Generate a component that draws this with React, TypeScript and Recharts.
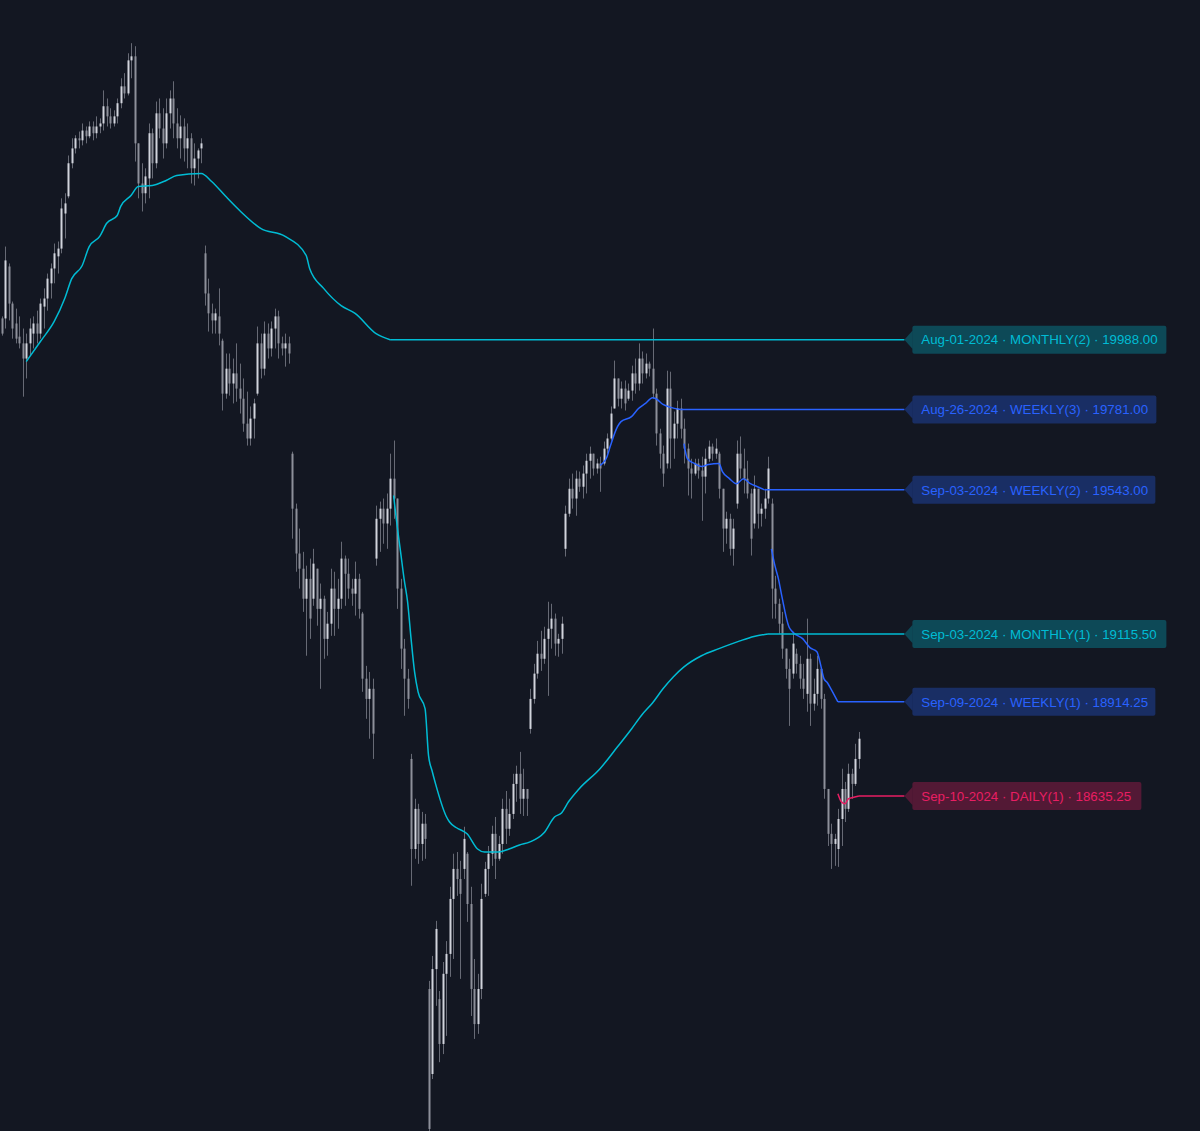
import { Bar, ComposedChart, Line, ReferenceDot, ReferenceLine, XAxis, YAxis } from "recharts";

// candles, one per slot from the left edge
const opens = [
  20051, 20051, 20205, 20095, 20036, 19997, 19977, 19932, 19977, 20006,
  20036, 20006, 20086, 20110, 20155, 20199, 20235, 20258, 20362, 20413,
  20511, 20555, 20585, 20579, 20608, 20591, 20620, 20600, 20620, 20629,
  20680, 20650, 20629, 20650, 20689, 20739, 20718, 20816, 20828, 20570,
  20451, 20422, 20466, 20600, 20511, 20659, 20614, 20570, 20659, 20703,
  20629, 20585, 20620, 20555, 20585, 20496, 20525, 20555, 20244, 20125,
  20066, 20045, 20057, 19985, 19828, 19902, 19858, 19888, 19843, 19813,
  19739, 19695, 19754, 19828, 19977, 19902, 20006, 19962, 20021, 20057,
  19977, 19962, 19977, 19650, 19487, 19354, 19309, 19220, 19279, 19220,
  19309, 19190, 19220, 19101, 19146, 19250, 19190, 19220, 19339, 19294,
  19250, 19235, 19279, 19176, 18983, 18923, 18953, 19339, 19457, 19487,
  19443, 19487, 19576, 19517, 19250, 19072, 18983, 18745, 18478, 18597,
  18493, 18553, 18063, 17811, 18122, 18033, 17900, 18108, 18167, 18330,
  18419, 18389, 18419, 18464, 18315, 18063, 17959, 18063, 18345, 18419,
  18464, 18523, 18449, 18493, 18597, 18538, 18582, 18671, 18701, 18627,
  18656, 18834, 18923, 18998, 19057, 19042, 19101, 19131, 19161, 19087,
  19101, 19368, 19472, 19546, 19517, 19576, 19552, 19591, 19629, 19650,
  19606, 19621, 19621, 19665, 19695, 19784, 19873, 19813, 19843, 19813,
  19837, 19888, 19858, 19932, 19888, 19917, 19902, 19828, 19710, 19650,
  19621, 19843, 19695, 19739, 19784, 19724, 19665, 19606, 19591, 19621,
  19600, 19582, 19635, 19671, 19650, 19650, 19546, 19428, 19457, 19368,
  19502, 19650, 19606, 19576, 19532, 19443, 19546, 19472, 19487, 19517,
  19502, 19250, 19205, 19146, 19072, 19012, 18998, 19057, 19027, 18983,
  18938, 19042, 18909, 18938, 19012, 18923, 18656, 18523, 18493, 18478,
  18567, 18656, 18597, 18701, 18671, 18745,
];

const highs = [
  20057, 20264, 20214, 20101, 20080, 20057, 20021, 20006, 20051, 20057,
  20074, 20110, 20140, 20184, 20214, 20273, 20279, 20407, 20422, 20534,
  20585, 20594, 20605, 20629, 20620, 20635, 20635, 20650, 20644, 20727,
  20703, 20674, 20668, 20703, 20763, 20778, 20837, 20867, 20858, 20570,
  20511, 20496, 20629, 20614, 20694, 20703, 20674, 20703, 20727, 20754,
  20674, 20653, 20644, 20629, 20600, 20570, 20555, 20585, 20267, 20169,
  20095, 20080, 20140, 19991, 19947, 19947, 19932, 19977, 19917, 19873,
  19834, 19790, 19813, 20027, 20006, 20042, 20036, 20042, 20080, 20074,
  19997, 20006, 19997, 19656, 19502, 19428, 19359, 19318, 19339, 19368,
  19309, 19265, 19229, 19181, 19309, 19300, 19279, 19389, 19348, 19339,
  19279, 19330, 19294, 19181, 19021, 19003, 18983, 19496, 19508, 19517,
  19532, 19650, 19689, 19517, 19279, 19101, 19012, 18760, 18627, 18612,
  18588, 18582, 18087, 18161, 18265, 18057, 18143, 18205, 18366, 18464,
  18469, 18443, 18544, 18469, 18366, 18152, 18108, 18375, 18440, 18487,
  18547, 18573, 18517, 18627, 18650, 18627, 18701, 18725, 18766, 18716,
  18656, 18953, 19027, 19095, 19125, 19137, 19211, 19205, 19176, 19116,
  19167, 19496, 19576, 19591, 19600, 19597, 19615, 19650, 19671, 19650,
  19635, 19641, 19686, 19710, 19790, 19926, 19873, 19864, 19867, 19858,
  19911, 19932, 19977, 19953, 19947, 19923, 20021, 19843, 19724, 19674,
  19896, 19893, 19775, 19807, 19813, 19754, 19680, 19635, 19635, 19635,
  19641, 19665, 19689, 19680, 19695, 19656, 19546, 19478, 19472, 19457,
  19689, 19701, 19665, 19629, 19546, 19585, 19546, 19502, 19546, 19641,
  19517, 19288, 19220, 19181, 19072, 19042, 19122, 19072, 19051, 19027,
  19161, 19057, 18983, 19051, 19012, 18938, 18656, 18553, 18523, 18597,
  18716, 18677, 18731, 18716, 18790, 18825,
];

const lows = [
  20000, 20021, 20045, 19991, 19977, 19962, 19819, 19873, 19941, 19962,
  19977, 19991, 20021, 20074, 20110, 20155, 20184, 20244, 20288, 20407,
  20496, 20540, 20555, 20564, 20570, 20585, 20579, 20585, 20600, 20608,
  20620, 20614, 20620, 20629, 20674, 20703, 20712, 20763, 20516, 20407,
  20368, 20392, 20407, 20466, 20496, 20585, 20525, 20555, 20614, 20585,
  20555, 20525, 20516, 20496, 20451, 20445, 20466, 20511, 20089, 20012,
  20006, 20006, 19971, 19778, 19813, 19822, 19799, 19804, 19769, 19715,
  19674, 19674, 19695, 19822, 19873, 19882, 19932, 19938, 19962, 19932,
  19941, 19908, 19917, 19398, 19300, 19250, 19181, 19051, 19101, 19199,
  19140, 18953, 19042, 19051, 19110, 19110, 19131, 19190, 19199, 19220,
  19199, 19170, 19161, 18944, 18864, 18805, 18745, 19318, 19359, 19383,
  19368, 19437, 19457, 19190, 19012, 18873, 18894, 18369, 18449, 18434,
  18443, 18449, 17603, 17796, 18013, 17846, 17870, 17924, 18099, 18152,
  18339, 18093, 18389, 18262, 17983, 17915, 17930, 18033, 18336, 18339,
  18428, 18389, 18443, 18464, 18493, 18517, 18567, 18618, 18582, 18576,
  18576, 18820, 18909, 18983, 19006, 19027, 18932, 19072, 19051, 19048,
  19057, 19345, 19463, 19487, 19466, 19537, 19517, 19532, 19576, 19585,
  19591, 19537, 19615, 19650, 19689, 19784, 19790, 19784, 19778, 19807,
  19807, 19828, 19837, 19858, 19873, 19879, 19813, 19674, 19606, 19552,
  19606, 19606, 19635, 19695, 19695, 19621, 19526, 19517, 19585, 19576,
  19451, 19532, 19626, 19629, 19635, 19517, 19359, 19383, 19348, 19318,
  19487, 19576, 19532, 19517, 19348, 19428, 19428, 19434, 19457, 19502,
  19161, 19161, 19116, 19042, 18983, 18843, 18983, 18998, 18953, 18923,
  18885, 18843, 18888, 18903, 18894, 18627, 18487, 18419, 18428, 18425,
  18487, 18558, 18588, 18627, 18665, 18716,
];

const closes = [
  20006, 20223, 20095, 20021, 19991, 19977, 19932, 19977, 20021, 20036,
  20006, 20095, 20110, 20169, 20199, 20244, 20258, 20377, 20392, 20511,
  20555, 20585, 20579, 20608, 20591, 20620, 20600, 20620, 20629, 20680,
  20650, 20629, 20650, 20689, 20739, 20718, 20816, 20828, 20570, 20451,
  20422, 20472, 20600, 20511, 20659, 20614, 20570, 20659, 20703, 20629,
  20585, 20620, 20555, 20585, 20496, 20525, 20549, 20570, 20125, 20066,
  20045, 20066, 20006, 19828, 19902, 19858, 19888, 19843, 19813, 19739,
  19695, 19754, 19799, 19977, 19902, 20006, 19962, 20021, 20057, 19977,
  19962, 19977, 19947, 19487, 19354, 19309, 19220, 19279, 19161, 19324,
  19190, 19220, 19101, 19146, 19250, 19190, 19220, 19339, 19294, 19250,
  19235, 19279, 19190, 18983, 18923, 18953, 18820, 19457, 19487, 19443,
  19487, 19576, 19517, 19250, 19072, 18983, 18923, 18478, 18597, 18493,
  18553, 18508, 17648, 18122, 18241, 17900, 18108, 18167, 18330, 18419,
  18389, 18345, 18508, 18315, 18063, 17959, 18063, 18330, 18419, 18464,
  18523, 18449, 18493, 18597, 18538, 18582, 18671, 18701, 18627, 18656,
  18627, 18923, 18998, 19057, 19042, 19101, 19131, 19161, 19087, 19101,
  19146, 19472, 19546, 19517, 19576, 19552, 19591, 19629, 19650, 19606,
  19621, 19606, 19665, 19695, 19769, 19873, 19813, 19843, 19799, 19837,
  19888, 19858, 19932, 19888, 19917, 19902, 19828, 19710, 19650, 19591,
  19843, 19695, 19739, 19784, 19724, 19665, 19606, 19591, 19621, 19600,
  19582, 19635, 19671, 19650, 19665, 19546, 19428, 19457, 19368, 19428,
  19650, 19606, 19576, 19532, 19398, 19546, 19472, 19487, 19517, 19606,
  19250, 19205, 19146, 19072, 19012, 18953, 19087, 19027, 18983, 18953,
  19042, 18909, 18938, 19012, 18923, 18656, 18523, 18493, 18508, 18567,
  18656, 18597, 18701, 18671, 18745, 18805,
];

// anchored vwap readings: [bar index, price]
const monthly2Vwap: [number, number][] = [
  [7, 19923], [11, 19982], [15, 20042], [18, 20110], [20, 20169], [23, 20208],
  [25, 20264], [28, 20294], [30, 20333], [33, 20356], [34, 20383], [37, 20416],
  [39, 20442], [43, 20445], [47, 20460], [50, 20475], [57, 20481], [60, 20457],
  [64, 20413], [68, 20371], [74, 20318], [81, 20294], [87, 20238], [88, 20199],
  [92, 20140], [97, 20089], [101, 20066], [107, 20006], [111, 19988],
];

const monthly1Vwap: [number, number][] = [
  [112, 19526], [113, 19437], [114, 19359], [115, 19279], [116, 19211], [117, 19101],
  [118, 19003], [119, 18944], [121, 18894], [122, 18754], [123, 18710], [124, 18671],
  [127, 18576], [128, 18558], [130, 18541], [133, 18523], [136, 18478], [138, 18469],
  [142, 18469], [145, 18478], [148, 18490], [151, 18499], [155, 18526], [158, 18573],
  [160, 18585], [162, 18618], [165, 18656], [171, 18716], [176, 18781], [180, 18834],
  [183, 18876], [186, 18911], [189, 18953], [192, 18989], [195, 19018], [200, 19051],
  [205, 19072], [211, 19095], [215, 19108], [219, 19115.5],
];

const weekly3Vwap: [number, number][] = [
  [171, 19615], [173, 19641], [174, 19674], [176, 19730], [177, 19745], [180, 19760],
  [182, 19784], [184, 19799], [186, 19816], [187, 19813], [189, 19796], [191, 19788],
  [194, 19781],
];

const weekly2Vwap: [number, number][] = [
  [195, 19680], [196, 19635], [198, 19621], [200, 19612], [202, 19618], [205, 19621],
  [206, 19597], [208, 19576], [210, 19561], [212, 19576], [214, 19561], [216, 19552],
  [218, 19543],
];

const weekly1Vwap: [number, number][] = [
  [220, 19368], [221, 19318], [222, 19279], [223, 19226], [225, 19137], [226, 19122],
  [229, 19101], [231, 19075], [233, 19063], [234, 19027], [235, 18983], [236, 18971],
  [237, 18953], [239, 18914.25],
];

const daily1Vwap: [number, number][] = [
  [239, 18642], [240, 18618], [241, 18612], [242, 18627], [243, 18630], [245, 18635.25],
];

const tagTexts = [
  "Aug-01-2024 · MONTHLY(2) · 19988.00",
  "Aug-26-2024 · WEEKLY(3) · 19781.00",
  "Sep-03-2024 · WEEKLY(2) · 19543.00",
  "Sep-03-2024 · MONTHLY(1) · 19115.50",
  "Sep-09-2024 · WEEKLY(1) · 18914.25",
  "Sep-10-2024 · DAILY(1) · 18635.25",
];
const tagPrices = [19988, 19781, 19543, 19115.5, 18914.25, 18635.25];

const SLOTS = 343;
const TAG_SLOT = 258;
const BG = "#131722";
const CYAN = "#00bcd4";
const BLUE = "#2962ff";
const PINK = "#e91e63";

const vwaps = [
  { key: "m2", points: monthly2Vwap, color: CYAN, tag: 0, width: 254 },
  { key: "w3", points: weekly3Vwap, color: BLUE, tag: 1, width: 244 },
  { key: "w2", points: weekly2Vwap, color: BLUE, tag: 2, width: 243 },
  { key: "m1", points: monthly1Vwap, color: CYAN, tag: 3, width: 254 },
  { key: "w1", points: weekly1Vwap, color: BLUE, tag: 4, width: 243 },
  { key: "d1", points: daily1Vwap, color: PINK, tag: 5, width: 229 },
];

const rows = Array.from({ length: SLOTS }, (_, i) => {
  const row: Record<string, any> = { i };
  if (i < opens.length) {
    row.o = opens[i];
    row.h = highs[i];
    row.l = lows[i];
    row.c = closes[i];
    row.range = [lows[i], highs[i]];
  }
  return row;
});
for (const v of vwaps) {
  for (const [idx, val] of v.points) rows[idx][v.key] = val;
}

function Candle(props: any) {
  const { x, y, width, height, payload } = props;
  if (!payload || payload.o == null || height == null) return null;
  const top = Math.min(y, y + height);
  const span = Math.abs(height);
  const range = payload.h - payload.l || 1;
  const yAt = (v: number) => top + ((payload.h - v) / range) * span;
  const cx = Math.round(x + width / 2) + 0.5;
  const up = payload.c >= payload.o;
  const b0 = yAt(Math.max(payload.o, payload.c));
  const b1 = yAt(Math.min(payload.o, payload.c));
  return (
    <g>
      <line x1={cx} x2={cx} y1={top} y2={top + span} stroke="#676a75" strokeWidth={1} />
      <rect
        x={cx - 1}
        y={b0}
        width={2}
        height={Math.max(1, b1 - b0)}
        fill={up ? "#d1d4dc" : "#8d909a"}
      />
    </g>
  );
}

function Tag({ cx, cy, text, color, width }: any) {
  const x0 = cx + 8;
  return (
    <g>
      <polygon points={`${cx},${cy} ${x0},${cy - 9} ${x0},${cy + 9}`} fill={color} fillOpacity={0.3} />
      <rect x={x0} y={cy - 14} width={width} height={28} rx={2} fill={color} fillOpacity={0.3} />
      <text
        x={x0 + 9}
        y={cy}
        dy="0.36em"
        fill={color}
        fontSize={13.3}
        fontFamily="'Liberation Sans', Arial, sans-serif"
      >
        {text}
      </text>
    </g>
  );
}

export default function App() {
  return (
    <div
      style={{
        position: "absolute",
        left: 0,
        top: 0,
        width: 1200,
        height: 1131,
        background: BG,
        overflow: "hidden",
      }}
    >
      <ComposedChart
        width={1200}
        height={1131}
        data={rows}
        margin={{ top: 0, right: 0, bottom: 0, left: 0 }}
      >
        <XAxis dataKey="i" type="category" hide />
        <YAxis hide domain={[17642, 20995]} allowDataOverflow />
        <Bar dataKey="range" shape={<Candle />} isAnimationActive={false} />
        {vwaps.map((v) => (
          <Line
            key={v.key}
            dataKey={v.key}
            type="monotone"
            stroke={v.color}
            strokeWidth={1.5}
            dot={false}
            activeDot={false}
            connectNulls
            isAnimationActive={false}
          />
        ))}
        {vwaps.map((v) => {
          const last = v.points[v.points.length - 1][0];
          const price = tagPrices[v.tag];
          return (
            <ReferenceLine
              key={`seg-${v.key}`}
              segment={[
                { x: last, y: price },
                { x: TAG_SLOT, y: price },
              ]}
              stroke={v.color}
              strokeWidth={1.5}
              ifOverflow="visible"
            />
          );
        })}
        {vwaps.map((v) => (
          <ReferenceDot
            key={`tag-${v.key}`}
            x={TAG_SLOT}
            y={tagPrices[v.tag]}
            ifOverflow="visible"
            shape={(p: any) => (
              <Tag cx={p.cx} cy={p.cy} text={tagTexts[v.tag]} color={v.color} width={v.width} />
            )}
          />
        ))}
      </ComposedChart>
    </div>
  );
}
